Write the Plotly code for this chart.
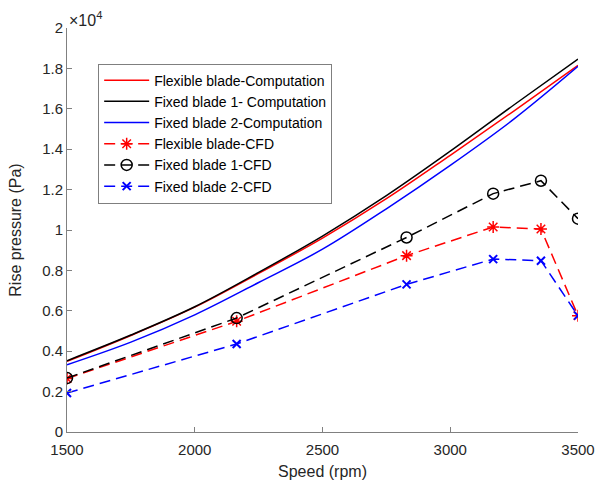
import plotly.graph_objects as go

# Computation curves (Pa)
speed_comp = [1500, 1750, 2000, 2250, 2500, 2750, 3000, 3250, 3500]
flex_comp = [3500, 4780, 6180, 7850, 9600, 11550, 13700, 15900, 18150]
fixed1_comp = [3530, 4800, 6200, 7900, 9700, 11700, 13900, 16200, 18460]
fixed2_comp = [3330, 4450, 5800, 7400, 9050, 11050, 13200, 15500, 18100]

# CFD points (Pa)
speed_cfd = [1500, 2164, 2829, 3168, 3355, 3500]
flex_cfd = [2650, 5480, 8730, 10150, 10050, 5760]
fixed1_cfd = [2670, 5640, 9630, 11800, 12440, 10560]
fixed2_cfd = [1930, 4360, 7310, 8560, 8480, 5760]

y_ticks = [0, 2000, 4000, 6000, 8000, 10000, 12000, 14000, 16000, 18000, 20000]
y_tick_text = ["0", "0.2", "0.4", "0.6", "0.8", "1", "1.2", "1.4", "1.6", "1.8", "2"]
x_ticks = [1500, 2000, 2500, 3000, 3500]

RED = "#ff0000"
BLACK = "#000000"
BLUE = "#0000ff"
DASH = "11px,6px"

fig = go.Figure()
fig.add_trace(go.Scatter(x=speed_comp, y=flex_comp, mode="lines", line=dict(color=RED, width=1.5, shape="spline"),
                         name="Flexible blade-Computation"))
fig.add_trace(go.Scatter(x=speed_comp, y=fixed1_comp, mode="lines", line=dict(color=BLACK, width=1.5, shape="spline"),
                         name="Fixed blade 1- Computation"))
fig.add_trace(go.Scatter(x=speed_comp, y=fixed2_comp, mode="lines", line=dict(color=BLUE, width=1.5, shape="spline"),
                         name="Fixed blade 2-Computation"))
fig.add_trace(go.Scatter(x=speed_cfd, y=flex_cfd, mode="lines+markers",
                         line=dict(color=RED, width=1.5, dash=DASH),
                         marker=dict(symbol="asterisk-open", size=10, color=RED, line=dict(color=RED, width=1.5)),
                         name="Flexible blade-CFD"))
fig.add_trace(go.Scatter(x=speed_cfd, y=fixed1_cfd, mode="lines+markers",
                         line=dict(color=BLACK, width=1.5, dash=DASH),
                         marker=dict(symbol="circle-open", size=11, color=BLACK, line=dict(color=BLACK, width=1.5)),
                         name="Fixed blade 1-CFD"))
fig.add_trace(go.Scatter(x=speed_cfd, y=fixed2_cfd, mode="lines+markers",
                         line=dict(color=BLUE, width=1.5, dash=DASH),
                         marker=dict(symbol="x-thin-open", size=8, color=BLUE, line=dict(color=BLUE, width=2)),
                         name="Fixed blade 2-CFD"))

axis_col = "#808080"
tick_font = dict(family="Liberation Sans, Arial, sans-serif", size=15, color="#262626")
fig.update_layout(
    width=596, height=486,
    margin=dict(l=67, r=18, t=28, b=54),
    paper_bgcolor="white", plot_bgcolor="white",
    font=dict(family="Liberation Sans, Arial, sans-serif", color="#262626"),
    showlegend=True,
    legend=dict(x=0.061, y=0.912, xanchor="left", yanchor="top",
                bgcolor="white", bordercolor="#7f7f7f", borderwidth=1,
                font=dict(size=14, color="#000000"), tracegroupgap=0, itemwidth=45),
    xaxis=dict(range=[1500, 3500], tickvals=x_ticks, ticks="inside", ticklen=5, tickcolor=axis_col,
               showline=True, linecolor=axis_col, linewidth=1, showgrid=False, zeroline=False,
               tickfont=tick_font, automargin=False, ticklabelstandoff=4,
               title=dict(text="Speed (rpm)", font=dict(size=16, color="#262626"), standoff=8)),
    yaxis=dict(range=[0, 20000], tickvals=y_ticks, ticktext=y_tick_text, ticks="inside", ticklen=5,
               tickcolor=axis_col, showline=True, linecolor=axis_col, linewidth=1, showgrid=False,
               zeroline=False, tickfont=tick_font, automargin=False,
               title=dict(text="Rise pressure (Pa)", font=dict(size=16, color="#262626"), standoff=16)),
)
fig.add_annotation(xref="paper", yref="paper", x=0.0, y=1.0, xanchor="left", yanchor="bottom",
                   text="×10<sup>4</sup>", showarrow=False, font=dict(size=16, color="#262626"), yshift=-3)

fig.write_html("out.html")
